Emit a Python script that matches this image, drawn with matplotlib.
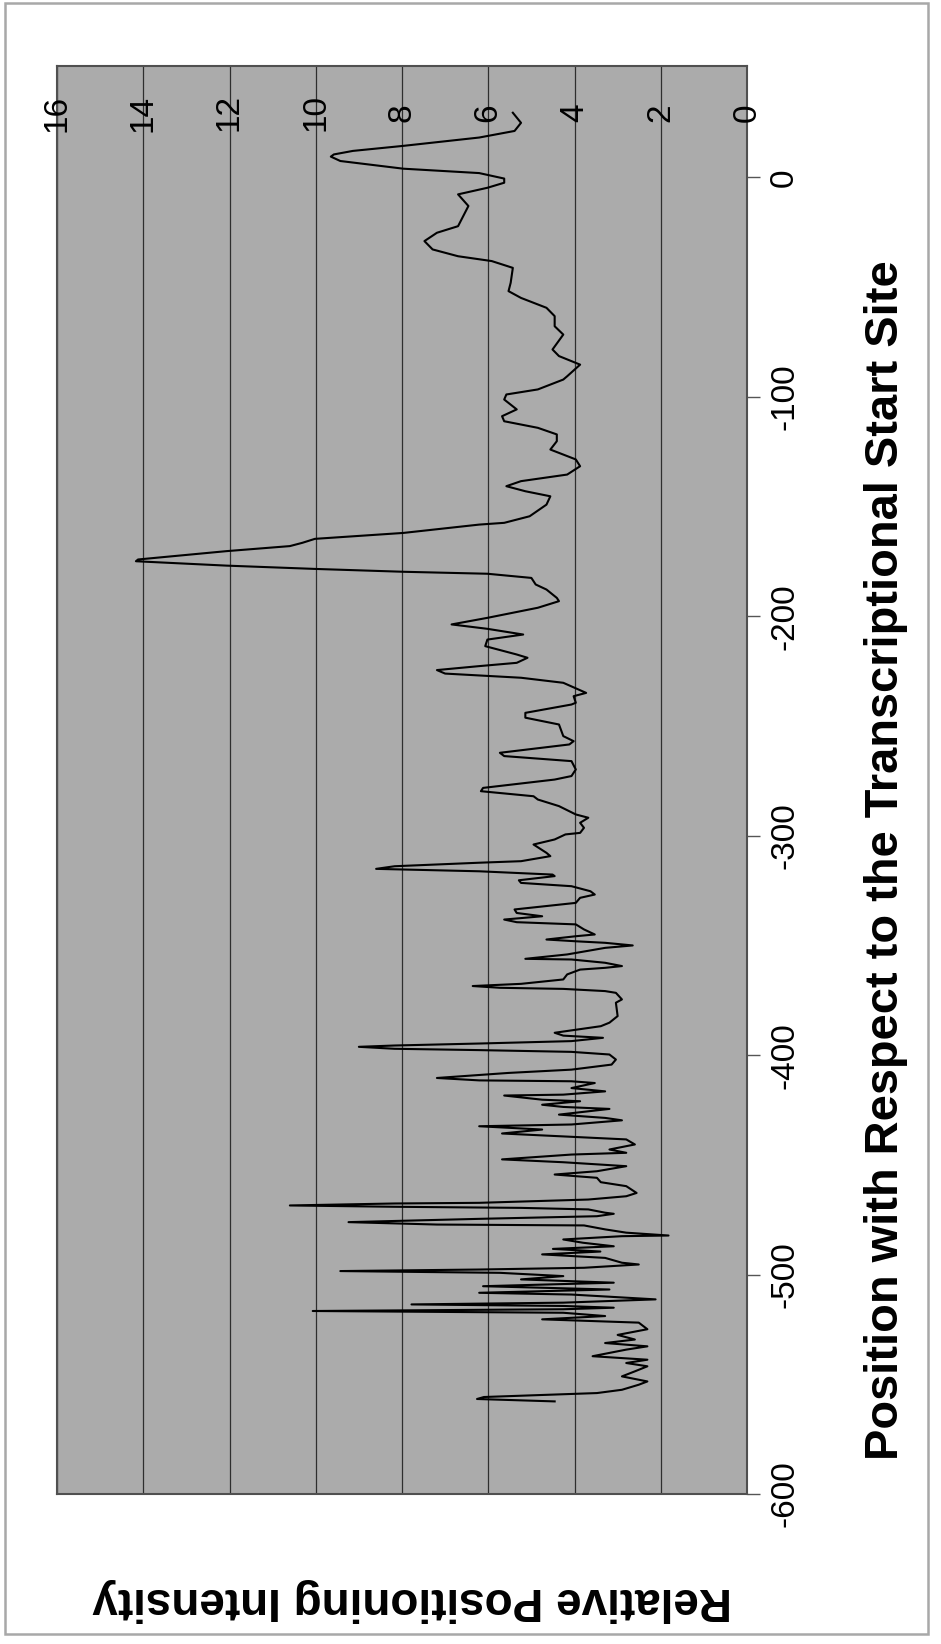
import matplotlib
matplotlib.use("Agg")
import matplotlib.pyplot as plt
from matplotlib.patches import Rectangle
from matplotlib.transforms import blended_transform_factory

# Relative positioning intensity along the promoter (bp relative to the TSS)
position = [
    -557.8, -556.7, -555.8, -554.0, -552.5, -550.2, -548.7, -546.4, -544.1, -541.8,
    -540.3, -538.8, -537.2, -534.2, -532.7, -531.2, -529.6, -527.5, -524.9, -521.9,
    -520.4, -518.9, -517.4, -516.6, -515.8, -515.1, -514.3, -513.6, -512.8, -511.3,
    -509.1, -508.3, -506.8, -505.3, -503.7, -502.2, -500.7, -499.2, -498.4, -497.7,
    -496.9, -495.4, -494.6, -492.4, -490.8, -489.5, -488.3, -487.1, -485.5, -484.0,
    -482.5, -482.2, -480.9, -479.4, -477.6, -477.2, -476.1, -474.6, -473.4, -472.3,
    -471.8, -470.3, -469.6, -469.1, -468.5, -467.6, -467.3, -465.8, -464.3, -462.8,
    -459.7, -457.9, -455.9, -454.4, -452.9, -450.6, -448.8, -447.5, -445.3, -444.5,
    -443.0, -440.7, -438.4, -437.2, -435.7, -433.9, -432.4, -431.6, -429.7, -428.6,
    -427.1, -424.5, -423.6, -422.6, -421.0, -420.3, -418.4, -418.0, -416.5, -415.0,
    -412.7, -411.9, -411.5, -410.4, -408.1, -406.6, -404.3, -402.0, -399.7, -398.5,
    -397.7, -397.1, -396.2, -395.6, -394.7, -393.6, -392.1, -391.1, -389.8, -386.8,
    -385.2, -382.2, -376.1, -374.6, -371.6, -370.8, -369.8, -369.3, -368.5, -367.5,
    -365.5, -363.2, -361.0, -360.2, -359.4, -357.9, -356.4, -356.1, -354.1, -351.1,
    -350.0, -348.8, -348.1, -347.3, -345.8, -345.0, -342.7, -340.4, -339.4, -338.2,
    -336.7, -335.2, -333.6, -330.6, -328.3, -326.8, -325.3, -323.0, -321.5, -320.3,
    -318.4, -317.7, -316.2, -315.1, -313.9, -312.3, -311.6, -309.3, -307.8, -304.0,
    -301.7, -299.4, -298.7, -296.4, -294.1, -291.8, -290.3, -286.5, -283.5, -282.0,
    -279.7, -278.2, -274.4, -272.8, -269.8, -266.0, -263.7, -262.2, -258.4, -256.9,
    -254.6, -249.3, -246.2, -244.0, -240.2, -239.4, -236.4, -234.9, -230.3, -228.0,
    -226.1, -224.5, -222.7, -221.2, -218.9, -217.4, -213.6, -210.6, -208.3, -205.7,
    -203.7, -200.7, -196.1, -193.1, -191.6, -187.8, -185.5, -182.5, -180.6, -179.7,
    -178.4, -176.9, -174.9, -174.1, -170.3, -168.0, -166.5, -164.7, -162.0, -158.2,
    -157.4, -154.4, -149.1, -145.3, -143.0, -140.7, -138.4, -135.4, -131.6, -128.5,
    -124.0, -120.2, -117.1, -114.1, -111.1, -108.8, -105.7, -101.2, -98.9, -96.6,
    -92.1, -90.6, -85.3, -81.4, -78.4, -71.6, -67.8, -63.2, -59.4, -54.9,
    -51.8, -48.0, -41.2, -38.1, -35.9, -32.8, -29.0, -25.2, -22.2, -18.4,
    -13.0, -7.7, -4.7, -2.4, -0.5, 2.0, 4.0, 7.5, 9.5, 10.5,
    12.1, 14.4, 18.2, 21.2, 24.9, 29.5,
]
intensity = [
    4.46, 6.26, 6.10, 3.48, 2.90, 2.51, 2.31, 2.90, 2.60, 2.31,
    2.80, 2.31, 3.58, 2.80, 2.31, 3.29, 2.60, 3.00, 2.31, 2.51,
    4.75, 3.29, 4.26, 10.07, 4.26, 3.09, 4.26, 7.78, 4.26, 2.12,
    4.07, 6.21, 3.19, 6.12, 3.09, 5.24, 4.26, 5.73, 9.43, 6.21,
    3.78, 2.51, 2.90, 3.29, 4.75, 3.40, 4.50, 3.09, 3.80, 4.26,
    2.90, 1.82, 2.80, 3.29, 3.78, 7.19, 9.24, 6.21, 3.48, 3.09,
    3.29, 3.68, 5.24, 8.17, 10.60, 8.17, 6.21, 3.68, 2.80, 2.56,
    2.80, 3.39, 3.48, 4.46, 3.48, 2.80, 4.26, 5.68, 4.07, 2.80,
    3.19, 2.60, 2.80, 4.07, 5.68, 4.75, 6.21, 4.07, 2.90, 3.29,
    4.36, 3.19, 4.26, 4.75, 3.87, 4.75, 5.63, 4.26, 3.29, 4.07,
    3.53, 4.07, 6.21, 7.19, 5.53, 4.07, 3.14, 3.04, 3.19, 4.07,
    6.21, 8.17, 9.00, 8.17, 6.21, 4.07, 3.34, 4.26, 4.46, 3.39,
    3.19, 3.00, 3.04, 2.90, 3.04, 3.29, 4.26, 5.73, 6.36, 5.24,
    4.26, 4.17, 3.87, 3.29, 2.90, 3.29, 4.07, 5.14, 4.17, 3.29,
    2.65, 3.29, 3.97, 4.65, 3.97, 3.53, 3.78, 3.97, 5.34, 5.63,
    4.75, 5.34, 5.39, 3.97, 3.87, 3.53, 3.63, 4.07, 5.24, 5.29,
    4.46, 4.51, 6.21, 8.60, 8.17, 6.21, 5.24, 4.56, 4.65, 4.95,
    4.46, 4.21, 3.87, 3.78, 3.87, 3.68, 3.97, 4.36, 4.85, 4.95,
    6.17, 6.12, 4.46, 4.07, 3.97, 4.07, 5.63, 5.73, 4.12, 4.02,
    4.26, 4.36, 5.14, 5.14, 4.07, 3.97, 4.02, 3.73, 4.26, 5.24,
    7.00, 7.19, 6.21, 5.34, 5.09, 5.34, 6.07, 6.02, 5.19, 6.02,
    6.85, 6.02, 4.85, 4.36, 4.41, 4.65, 4.90, 5.00, 6.02, 7.97,
    10.02, 12.07, 14.17, 14.12, 12.07, 10.60, 10.31, 10.02, 7.97, 6.21,
    5.63, 5.04, 4.65, 4.56, 5.14, 5.58, 5.24, 4.17, 3.87, 3.97,
    4.56, 4.41, 4.41, 4.85, 5.63, 5.68, 5.34, 5.63, 5.58, 4.85,
    4.26, 4.17, 3.87, 4.36, 4.51, 4.26, 4.46, 4.46, 4.65, 5.24,
    5.53, 5.48, 5.43, 5.92, 6.70, 7.29, 7.48, 7.19, 6.70, 6.60,
    6.46, 6.70, 6.02, 5.63, 5.63, 6.21, 7.97, 9.43, 9.65, 9.58,
    9.14, 7.97, 6.21, 5.39, 5.24, 5.43,
]

position_ticks = [-600, -500, -400, -300, -200, -100, 0]
intensity_ticks = [0, 2, 4, 6, 8, 10, 12, 14, 16]

x_title = "Position with Respect to the Transcriptional Start Site"
y_title = "Relative Positioning Intensity"

plt.rcParams['font.family'] = ['Liberation Sans', 'DejaVu Sans']

W, H = 941, 1644
fig = plt.figure(figsize=(W / 100, H / 100), dpi=100)
fig.patch.set_facecolor('white')

# Outer chart frame
fig.patches.append(Rectangle((5 / W, (H - 1634) / H), 923 / W, 1631 / H,
                             transform=fig.transFigure, fill=False,
                             ec='#a8a8a8', lw=1.8))

# Plot area, laid out in portrait: intensity runs right-to-left, position upward
ax = fig.add_axes([57 / W, (H - 1494) / H, 690 / W, 1428 / H])
ax.set_facecolor('#ababab')
ax.set_axisbelow(True)

ax.plot(intensity, position, color='black', lw=1.5, solid_joinstyle='round')

ax.set_xlim(16, 0)
ax.set_ylim(-600, 50.8)

ax.set_xticks(intensity_ticks)
ax.tick_params(axis='x', bottom=False, top=False, labelbottom=False, labeltop=False)
ax.grid(axis='x', color='#2e2e2e', lw=0.9)
ax.grid(axis='y', visible=False)

ax.yaxis.tick_right()
ax.set_yticks(position_ticks)
ax.set_yticklabels([str(t) for t in position_ticks], rotation=90,
                   va='center', fontsize=24)
ax.tick_params(axis='y', direction='out', length=9, width=1.0,
               color='#555555', pad=7)

for side in ['top', 'bottom', 'left', 'right']:
    ax.spines[side].set_color('#505050')
    ax.spines[side].set_linewidth(1.5)

# Intensity labels sit just inside the upper edge of the plot area
tr = blended_transform_factory(ax.transData, ax.transAxes)
for t in intensity_ticks:
    ax.text(t, 0.9671, str(t), transform=tr, rotation=90,
            ha='center', va='center', fontsize=24, clip_on=False)

fig.text(886 / W, 1 - 860 / H, x_title, rotation=90, ha='center', va='center',
         fontsize=33.8, fontweight='bold')
fig.text(412 / W, 1 - 1600 / H, y_title, rotation=180, ha='center', va='center',
         fontsize=33, fontweight='bold')

fig.savefig('out.png', dpi=100, facecolor='white')
